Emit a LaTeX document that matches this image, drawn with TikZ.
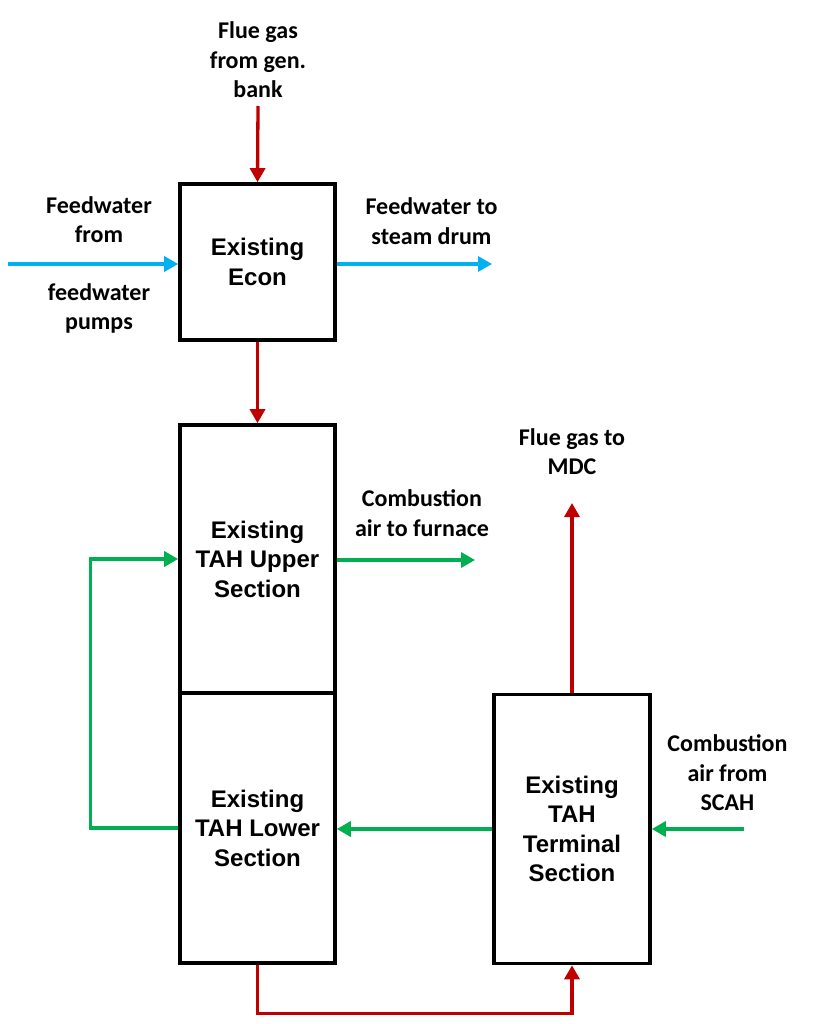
\documentclass[tikz,border=0pt]{standalone}
\usepackage{fontspec}
\setmainfont{Liberation Sans}
\newfontfamily\labelfont{Carlito}
\usetikzlibrary{arrows.meta}
\definecolor{fgred}{HTML}{C00000}
\definecolor{fwblue}{HTML}{00B0F0}
\definecolor{airgreen}{HTML}{00B050}
\begin{document}
\begin{tikzpicture}[x=1pt,y=-1pt,
  unit/.style={draw=black,line width=3.6pt,fill=white,align=center,inner sep=0pt,
    font=\bfseries\fontsize{24}{29.5}\selectfont},
  lbl/.style={align=center,inner sep=0pt,font=\labelfont\bfseries\fontsize{24}{29.5}\selectfont},
  flow/.style={line width=3.3pt,-{Triangle[length=14pt,width=15pt]}},
  redflow/.style={flow,draw=fgred},
  blueflow/.style={flow,draw=fwblue},
  greenflow/.style={flow,draw=airgreen}]
\useasboundingbox (0,0) rectangle (816,1024);
% units
\node[unit,minimum width=155pt,minimum height=156pt] (econ) at (257.5,262) {Existing\\Econ};
\node[unit,minimum width=155pt,minimum height=268pt] (upper) at (257.5,559) {Existing\\TAH Upper\\Section};
\node[unit,minimum width=155pt,minimum height=270pt] (lower) at (257.5,828) {Existing\\TAH Lower\\Section};
\node[unit,minimum width=156pt,minimum height=269pt] (term) at (572,829) {Existing\\TAH\\Terminal\\Section};
% labels
\node[lbl] (lflue) at (258,60) {Flue gas\\from gen.\\bank};
\node[lbl] (lfwin1) at (99,219.5) {Feedwater\\from};
\node[lbl] (lfwin2) at (99,308.5) {feedwater\\pumps};
\node[lbl] (lfwout) at (431.5,221) {Feedwater to\\steam drum};
\node[lbl] (lmdc) at (572,451.5) {Flue gas to\\MDC};
\node[lbl] (lfurn) at (422,513) {Combustion\\air to furnace};
\node[lbl] (lscah) at (727.5,773) {Combustion\\air from\\SCAH};
% free ends
\coordinate (fluestart) at (258,106);
\coordinate (fwstart) at (8,264);
\coordinate (fwend) at (492,264);
\coordinate (furnend) at (475,560);
\coordinate (mdcend) at (572,503);
\coordinate (scahstart) at (744,829);
% connectors
\draw[redflow] (fluestart) -- (econ.north);
\draw[redflow] (econ.south) -- (upper.north);
\draw[blueflow] (fwstart) -- (fwstart -| econ.west);
\draw[blueflow] (fwstart -| econ.east) -- (fwend);
\draw[greenflow] (furnend -| upper.east) -- (furnend);
\draw[greenflow] (lower.west) -- ++(-88,0) |- (upper.west);
\draw[greenflow] (term.west) -- (term.west -| lower.east);
\draw[greenflow] (scahstart) -- (term.east);
\draw[redflow] (term.north) -- (mdcend);
\draw[redflow] (lower.south) -- ++(0,49) -| (term.south);
\end{tikzpicture}
\end{document}
